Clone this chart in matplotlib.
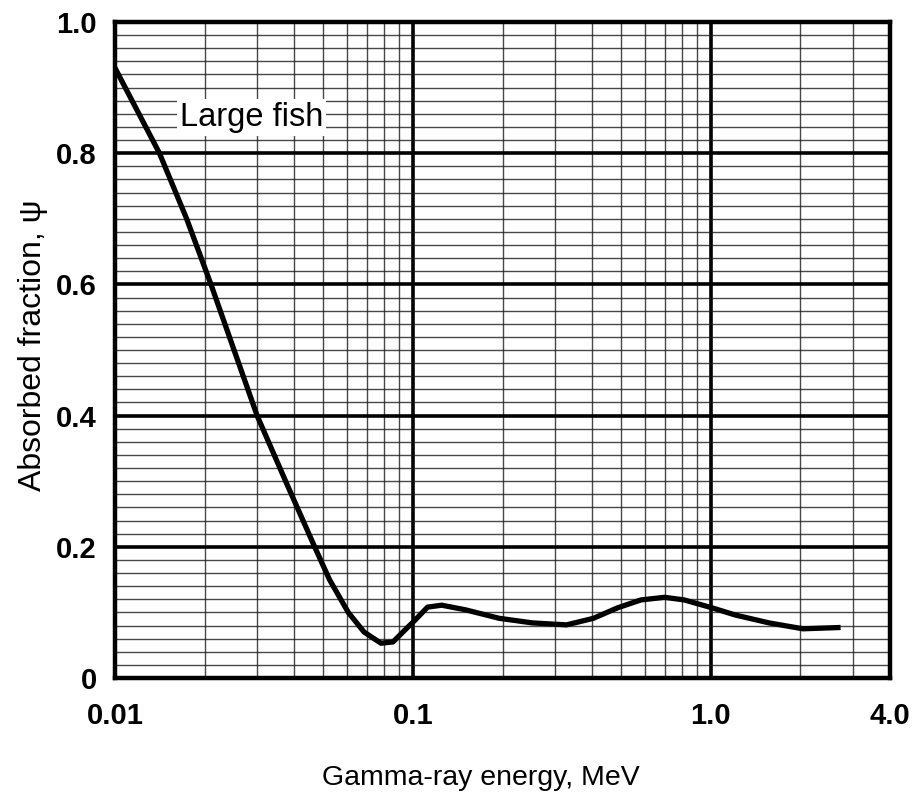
import matplotlib
matplotlib.use("Agg")
import matplotlib.pyplot as plt
from matplotlib.ticker import LogLocator, MultipleLocator, NullFormatter, FixedLocator

plt.rcParams['font.family'] = ['Liberation Sans', 'DejaVu Sans']

# Data (Large fish)
energy_mev = [0.0100, 0.0141, 0.0174, 0.0210, 0.0251, 0.0300, 0.0374, 0.0468,
              0.0525, 0.0607, 0.0686, 0.0782, 0.0858, 0.0940, 0.1016, 0.1120,
              0.1250, 0.1500, 0.1950, 0.2520, 0.3280, 0.4040, 0.4870, 0.5830,
              0.7000, 0.8150, 1.0100, 1.2100, 1.5700, 2.0400, 2.7300]
absorbed = [0.930, 0.800, 0.700, 0.600, 0.500, 0.400, 0.300, 0.200,
            0.150, 0.100, 0.070, 0.053, 0.055, 0.073, 0.088, 0.108,
            0.111, 0.104, 0.091, 0.084, 0.081, 0.091, 0.107, 0.119,
            0.123, 0.119, 0.107, 0.096, 0.084, 0.075, 0.077]

xtick_vals = [0.01, 0.1, 1.0, 4.0]
xtick_labels = ["0.01", "0.1", "1.0", "4.0"]
ytick_vals = [0, 0.2, 0.4, 0.6, 0.8, 1.0]
ytick_labels = ["0", "0.2", "0.4", "0.6", "0.8", "1.0"]
curve_label = "Large fish"
xlabel = "Gamma-ray energy, MeV"
ylabel = "Absorbed fraction, \u03c8"

fig = plt.figure(figsize=(9.18, 7.93), dpi=100)
L, R, B, T = 115/918, 890/918, (793-678)/793, (793-22)/793
ax = fig.add_axes([L, B, R-L, T-B])

ax.set_xscale('log')
ax.set_xlim(0.01, 4.0)
ax.set_ylim(0, 1.0)

ax.xaxis.set_major_locator(FixedLocator(xtick_vals))
ax.xaxis.set_minor_locator(LogLocator(base=10, subs=[2, 3, 4, 5, 6, 7, 8, 9], numticks=20))
ax.xaxis.set_minor_formatter(NullFormatter())
ax.set_xticklabels(xtick_labels, fontweight='bold')
ax.yaxis.set_major_locator(FixedLocator(ytick_vals))
ax.yaxis.set_minor_locator(MultipleLocator(0.02))
ax.set_yticklabels(ytick_labels, fontweight='bold')

ax.grid(which='major', color='black', linewidth=2.6, zorder=1)
ax.grid(which='minor', color='#1a1a1a', linewidth=1.0, alpha=0.8, zorder=1)
ax.set_axisbelow(True)

ax.tick_params(which='both', length=0)
ax.tick_params(axis='x', pad=17, labelsize=21)
ax.tick_params(axis='y', pad=13, labelsize=21)

for s in ax.spines.values():
    s.set_linewidth(3.2)
    s.set_color('black')

ax.plot(energy_mev, absorbed, color='black', linewidth=3.8, solid_capstyle='butt',
        solid_joinstyle='round', zorder=5)

ax.text(0.01647, 0.855, curve_label, fontsize=23.5, ha='left', va='center', zorder=6,
        bbox=dict(facecolor='white', edgecolor='none', pad=2))

fig.text(481/918, (793-785)/793, xlabel, fontsize=20.5, ha='center', va='baseline')
fig.text(33/918, (793-345)/793, ylabel, fontsize=23, ha='center', va='center', rotation=90)

fig.savefig('out.png', dpi=100)
